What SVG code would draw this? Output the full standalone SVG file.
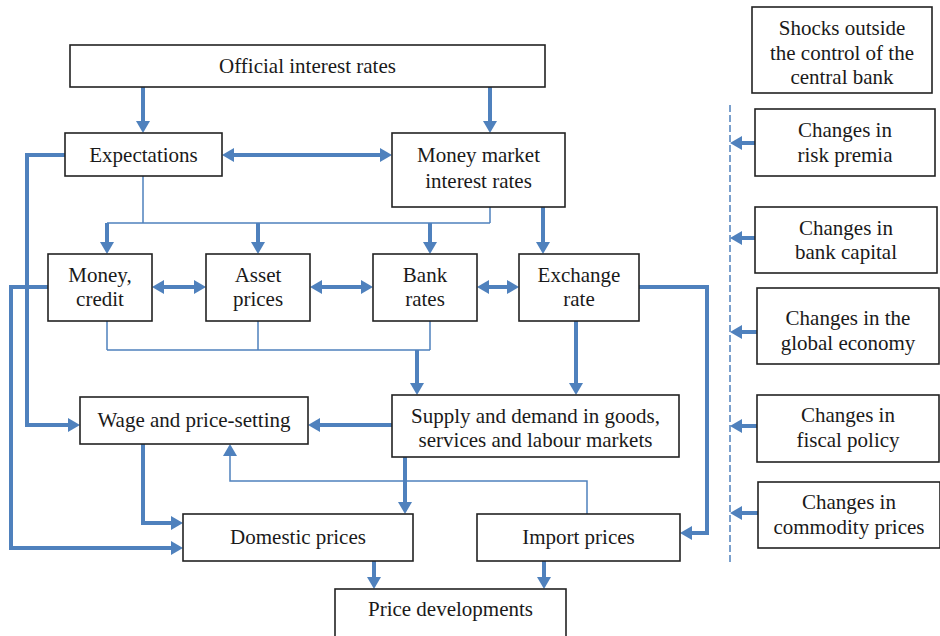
<svg xmlns="http://www.w3.org/2000/svg" width="940" height="636" viewBox="0 0 940 636">
<style>
.box{fill:#fff;stroke:#222;stroke-width:1.6}
text{font-family:"Liberation Serif",serif;font-size:21px;fill:#1a1a1a;text-anchor:middle}
.thick{fill:none;stroke:#4F81BD;stroke-width:4}
.thin{fill:none;stroke:#4F81BD;stroke-width:1.5}
.dash{fill:none;stroke:#4F81BD;stroke-width:1.5;stroke-dasharray:7 3}
</style>
<defs>
<marker id="ah" markerUnits="userSpaceOnUse" markerWidth="14" markerHeight="14" refX="6" refY="7" orient="auto-start-reverse">
<path d="M0,0 L12,7 L0,14 Z" fill="#4F81BD"/>
</marker>
</defs>
<rect width="940" height="636" fill="#fff"/>
<g id="connectors">
<path class="thick" d="M143,87 V127" marker-end="url(#ah)"/>
<path class="thick" d="M490,87 V127" marker-end="url(#ah)"/>
<path class="thick" d="M228,155 H386" marker-start="url(#ah)" marker-end="url(#ah)"/>
<path class="thick" d="M65,155 H27 V425 H74" marker-end="url(#ah)"/>
<path class="thin" d="M143,176 V223 M490,207 V223 M107,223 H490"/>
<path class="thick" d="M107,223 V248" marker-end="url(#ah)"/>
<path class="thick" d="M258,223 V248" marker-end="url(#ah)"/>
<path class="thick" d="M430,223 V248" marker-end="url(#ah)"/>
<path class="thick" d="M543,207 V248" marker-end="url(#ah)"/>
<path class="thick" d="M158,287 H200" marker-start="url(#ah)" marker-end="url(#ah)"/>
<path class="thick" d="M316,287 H367" marker-start="url(#ah)" marker-end="url(#ah)"/>
<path class="thick" d="M483,287 H513" marker-start="url(#ah)" marker-end="url(#ah)"/>
<path class="thick" d="M48,287 H11 V548 H177" marker-end="url(#ah)"/>
<path class="thin" d="M107,321 V350 M258,321 V350 M430,321 V350 M107,350 H430"/>
<path class="thick" d="M417,350 V389" marker-end="url(#ah)"/>
<path class="thick" d="M576,321 V389" marker-end="url(#ah)"/>
<path class="thick" d="M639,287 H707 V533 H686" marker-end="url(#ah)"/>
<path class="thick" d="M392,425 H314" marker-end="url(#ah)"/>
<path class="thick" d="M143,444 V523 H177" marker-end="url(#ah)"/>
<path class="thick" d="M405,457 V508" marker-end="url(#ah)"/>
<path class="thin" d="M587,514 V481 H230 V450" marker-end="url(#ah)"/>
<path class="thick" d="M374,561 V583" marker-end="url(#ah)"/>
<path class="thick" d="M544,561 V583" marker-end="url(#ah)"/>
<path class="dash" d="M730,105 V562"/>
<path class="thick" d="M755,143 H736" marker-end="url(#ah)"/>
<path class="thick" d="M755,238 H736" marker-end="url(#ah)"/>
<path class="thick" d="M757,332 H736" marker-end="url(#ah)"/>
<path class="thick" d="M757,426 H736" marker-end="url(#ah)"/>
<path class="thick" d="M758,513 H736" marker-end="url(#ah)"/>
</g>
<g id="official"><rect class="box" x="70" y="45" width="475" height="42"/><text x="307.5" y="73">Official interest rates</text></g>
<g id="expectations"><rect class="box" x="65" y="133" width="157" height="43"/><text x="143.5" y="162">Expectations</text></g>
<g id="moneymarket"><rect class="box" x="392" y="133" width="173" height="74"/><text x="478.5" y="162">Money market</text><text x="478.5" y="188">interest rates</text></g>
<g id="money"><rect class="box" x="48" y="254" width="104" height="67"/><text x="100" y="282">Money,</text><text x="100" y="306">credit</text></g>
<g id="asset"><rect class="box" x="206" y="254" width="104" height="67"/><text x="258" y="282">Asset</text><text x="258" y="306">prices</text></g>
<g id="bank"><rect class="box" x="373" y="254" width="104" height="67"/><text x="425" y="282">Bank</text><text x="425" y="306">rates</text></g>
<g id="exchange"><rect class="box" x="519" y="254" width="120" height="67"/><text x="579" y="282">Exchange</text><text x="579" y="306">rate</text></g>
<g id="wage"><rect class="box" x="80" y="397" width="228" height="47"/><text x="194" y="427">Wage and price-setting</text></g>
<g id="supply"><rect class="box" x="392" y="395" width="287" height="62"/><text x="535.5" y="423">Supply and demand in goods,</text><text x="535.5" y="447">services and labour markets</text></g>
<g id="domestic"><rect class="box" x="183" y="514" width="230" height="47"/><text x="298" y="544">Domestic prices</text></g>
<g id="import"><rect class="box" x="477" y="514" width="203" height="47"/><text x="578.5" y="544">Import prices</text></g>
<g id="pricedev"><rect class="box" x="335" y="589" width="231" height="60"/><text x="450.5" y="616">Price developments</text></g>
<g id="shocks"><rect class="box" x="752" y="7" width="180" height="86"/><text x="842" y="35">Shocks outside</text><text x="842" y="60">the control of the</text><text x="842" y="84">central bank</text></g>
<g id="risk"><rect class="box" x="755" y="109" width="180" height="67"/><text x="845" y="137">Changes in</text><text x="845" y="162">risk premia</text></g>
<g id="bankcap"><rect class="box" x="755" y="207" width="182" height="66"/><text x="846" y="235">Changes in</text><text x="846" y="259">bank capital</text></g>
<g id="global"><rect class="box" x="757" y="288" width="182" height="76"/><text x="848" y="325">Changes in the</text><text x="848" y="350">global economy</text></g>
<g id="fiscal"><rect class="box" x="757" y="395" width="182" height="67"/><text x="848" y="422">Changes in</text><text x="848" y="447">fiscal policy</text></g>
<g id="commodity"><rect class="box" x="758" y="482" width="182" height="66"/><text x="849" y="509">Changes in</text><text x="849" y="534">commodity prices</text></g>
</svg>
